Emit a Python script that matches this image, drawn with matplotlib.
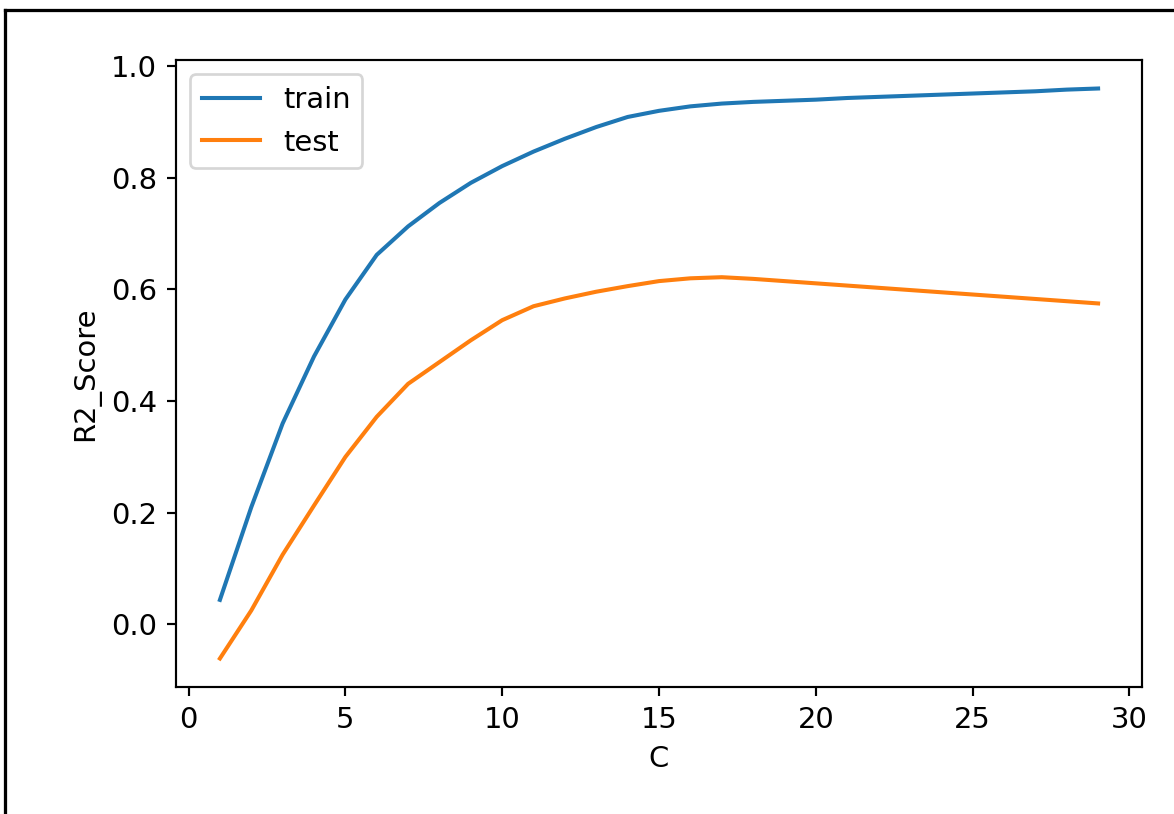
import matplotlib
matplotlib.use("Agg")
import matplotlib.pyplot as plt
from matplotlib.lines import Line2D

# C values and R2 scores
c_values = list(range(1, 30))
train_score = [0.044, 0.210, 0.360, 0.480, 0.582, 0.662, 0.713, 0.755, 0.791, 0.821,
               0.847, 0.870, 0.891, 0.909, 0.920, 0.928, 0.933, 0.936, 0.938, 0.940,
               0.943, 0.945, 0.947, 0.949, 0.951, 0.953, 0.955, 0.958, 0.960]
test_score = [-0.061, 0.025, 0.125, 0.213, 0.300, 0.372, 0.431, 0.470, 0.509, 0.545,
              0.570, 0.584, 0.596, 0.606, 0.615, 0.620, 0.622, 0.619, 0.615, 0.611,
              0.607, 0.603, 0.599, 0.595, 0.591, 0.587, 0.583, 0.579, 0.575]

plt.rcParams["font.size"] = 10.7

dpi = 195
fig = plt.figure(figsize=(1174 / dpi, 814 / dpi), dpi=dpi)
ax = fig.add_axes([176 / 1174, 1 - 687 / 814, (1142 - 176) / 1174, (687 - 60) / 814])

ax.plot(c_values, train_score, label="train")
ax.plot(c_values, test_score, label="test")
ax.set_xlabel("C")
ax.set_ylabel("R2_Score")
ax.legend(loc="upper left")

# screenshot frame around the figure
fig.add_artist(Line2D([5 / 1174, 5 / 1174], [0, 1 - 10 / 814], transform=fig.transFigure,
                      color="black", linewidth=1.2))
fig.add_artist(Line2D([5 / 1174, 1], [1 - 10 / 814, 1 - 10 / 814], transform=fig.transFigure,
                      color="black", linewidth=1.2))

fig.savefig("out.png", dpi=dpi)
